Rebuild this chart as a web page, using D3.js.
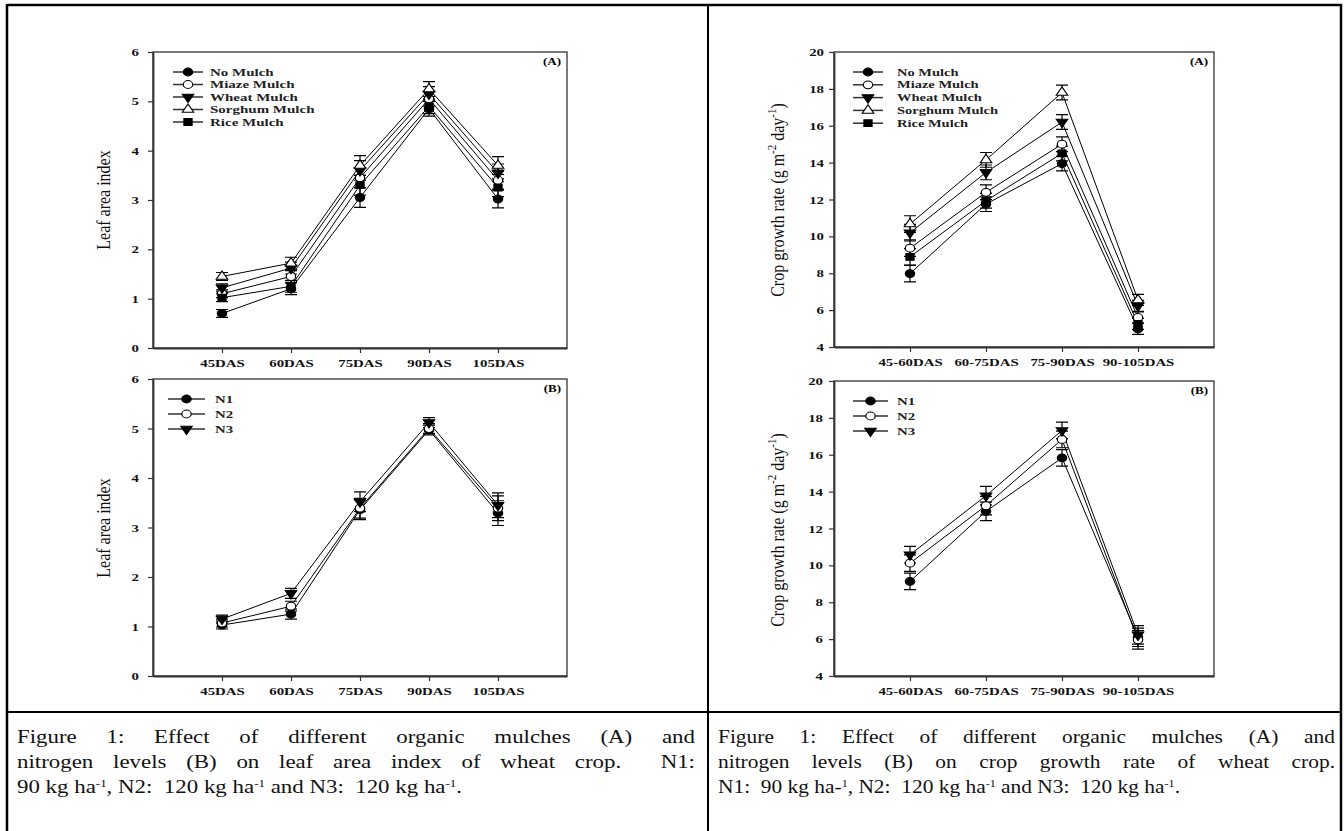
<!DOCTYPE html>
<html>
<head>
<meta charset="utf-8">
<script src="https://cdn.jsdelivr.net/npm/d3@7"></script>
<style>
body { margin: 0; background: #fff; }
#wrap { position: relative; width: 1344px; height: 831px; overflow: hidden; }
svg { position: absolute; left: 0; top: 0; }
.cap { position: absolute; font-family: "Liberation Serif", serif; font-size: 19.5px; line-height: 25px; color: #111; transform-origin: 0 0; }
.cap .j { text-align: justify; text-align-last: justify; }
.cap span { white-space: nowrap; }
.cap sup { font-size: 11px; vertical-align: 6px; line-height: 0; }
</style>
</head>
<body>
<div id="wrap">
  <svg id="chart" width="1344" height="831"></svg>
  <div class="cap" id="capL">
    <div class="j">Figure 1: Effect of different organic mulches (A) and</div>
    <div class="j">nitrogen levels (B) on leaf area index of wheat crop.&nbsp; N1:</div>
    <div class="last"><span>90 kg ha<sup>-1</sup>, N2:&nbsp; 120 kg ha<sup>-1</sup> and N3:&nbsp; 120 kg ha<sup>-1</sup>.</span></div>
  </div>
  <div class="cap" id="capR">
    <div class="j">Figure 1: Effect of different organic mulches (A) and</div>
    <div class="j">nitrogen levels (B) on crop growth rate of wheat crop.</div>
    <div class="last"><span>N1:&nbsp; 90 kg ha-<sup>1</sup>, N2:&nbsp; 120 kg ha<sup>-1</sup> and N3:&nbsp; 120 kg ha<sup>-1</sup>.</span></div>
  </div>
</div>
<script>
// categories
const laiDays = ['45DAS', '60DAS', '75DAS', '90DAS', '105DAS'];
const cgrDays = ['45-60DAS', '60-75DAS', '75-90DAS', '90-105DAS'];
const mulchNames = ['No Mulch', 'Miaze Mulch', 'Wheat Mulch', 'Sorghum Mulch', 'Rice Mulch'];
const nitrogenNames = ['N1', 'N2', 'N3'];

// leaf area index, mulches (A)
const laiNoMulch = [0.70, 1.20, 3.05, 4.85, 3.02];
const laiMiaze = [1.10, 1.45, 3.45, 5.05, 3.40];
const laiWheat = [1.22, 1.62, 3.60, 5.15, 3.55];
const laiSorghum = [1.45, 1.72, 3.70, 5.25, 3.70];
const laiRice = [1.02, 1.25, 3.30, 4.90, 3.25];
const laiMulchErr = [0.08, 0.12, 0.20, 0.15, 0.18];

// leaf area index, nitrogen (B)
const laiN1 = [1.03, 1.25, 3.36, 4.97, 3.29];
const laiN2 = [1.07, 1.41, 3.39, 5.00, 3.39];
const laiN3 = [1.15, 1.67, 3.52, 5.12, 3.45];
const laiNErr = [0.08, 0.10, 0.20, 0.10, 0.25];

// crop growth rate, mulches (A)
const cgrNoMulch = [7.98, 11.75, 13.95, 4.98];
const cgrMiaze = [9.36, 12.39, 15.00, 5.60];
const cgrWheat = [10.20, 13.47, 16.20, 6.23];
const cgrSorghum = [10.67, 14.15, 17.80, 6.55];
const cgrRice = [8.89, 11.93, 14.50, 5.25];
const cgrMulchErr = [0.45, 0.40, 0.40, 0.30];

// crop growth rate, nitrogen (B)
const cgrN1 = [9.13, 12.93, 15.83, 6.10];
const cgrN2 = [10.12, 13.24, 16.83, 5.96];
const cgrN3 = [10.58, 13.78, 17.32, 6.23];
const cgrNErr = [0.45, 0.50, 0.45, 0.50];

const laiTicks = [0, 1, 2, 3, 4, 5, 6];
const cgrTicks = [4, 6, 8, 10, 12, 14, 16, 18, 20];

const svg = d3.select('#chart');
const serif = '"Liberation Serif", "Times New Roman", serif';

// marker styles: [symbol, filled, rotation, size]
const markers = [
    [d3.symbolCircle, true, 0, 48],
    [d3.symbolCircle, false, 0, 48],
    [d3.symbolTriangle, true, 180, 40],
    [d3.symbolTriangle, false, 0, 40],
    [d3.symbolSquare, true, 0, 46]
];

function drawMarker(g, x, y, i) {
    let m = markers[i];
    g.append('path')
        .attr('d', d3.symbol().type(m[0]).size(m[3])())
        .attr('transform', `translate(${x},${y}) scale(1.2,1) rotate(${m[2]})`)
        .attr('fill', m[1] ? '#000' : '#fff')
        .attr('stroke', '#000')
        .attr('stroke-width', 1);
}

function stretch(sel, sx) {
    sel.each(function () {
        let t = d3.select(this);
        let x = +t.attr('x') || 0, y = +t.attr('y') || 0;
        t.attr('x', 0).attr('y', 0).attr('transform', `translate(${x},${y}) scale(${sx},1)`);
    });
}

function drawPanel(p) {
    let x = d3.scalePoint().domain(p.cats).range([p.left, p.right]).padding(1);
    let y = d3.scaleLinear().domain(p.domain).range([p.bottom, p.top]);
    let g = svg.append('g');

    // frame
    g.append('rect')
        .attr('x', p.left).attr('y', p.top)
        .attr('width', p.right - p.left).attr('height', p.bottom - p.top)
        .attr('fill', 'none').attr('stroke', '#333').attr('stroke-width', 1.3);

    let yAxis = g.append('g')
        .attr('transform', `translate(${p.left},0)`)
        .call(d3.axisLeft(y).tickValues(p.ticks).tickFormat(d3.format('d'))
            .tickSize(5).tickSizeOuter(0).tickPadding(p.ypad));
    let xAxis = g.append('g')
        .attr('transform', `translate(0,${p.bottom})`)
        .call(d3.axisBottom(x).tickSize(5).tickSizeOuter(0).tickPadding(6));
    for (let a of [xAxis, yAxis]) {
        a.select('.domain').attr('stroke', '#333').attr('stroke-width', 1.8);
        a.selectAll('.tick line').attr('stroke', '#333').attr('stroke-width', 1.2);
        a.selectAll('text').attr('font-family', serif).attr('font-weight', 'bold')
            .attr('font-size', 11).attr('fill', '#111');
        stretch(a.selectAll('text'), 1.35);
    }

    // y label
    let lab = g.append('text')
        .attr('transform', `translate(${p.labelX},${p.labelY}) scale(1.2,1) rotate(-90)`)
        .attr('text-anchor', 'middle')
        .attr('font-family', serif).attr('font-size', 16).attr('fill', '#111');
    p.label(lab);

    // tag (A)/(B)
    g.append('text')
        .attr('transform', `translate(${p.right - 6},${p.top + 13}) scale(1.3,1)`)
        .attr('text-anchor', 'end')
        .attr('font-family', serif).attr('font-weight', 'bold').attr('font-size', 10)
        .text(p.tag);

    let line = d3.line().x((d, i) => x(p.cats[i])).y(d => y(d));

    p.series.forEach((s, si) => {
        g.append('path').datum(s)
            .attr('d', line)
            .attr('fill', 'none').attr('stroke', '#000').attr('stroke-width', 1);
    });
    p.series.forEach((s, si) => {
        s.forEach((v, i) => {
            let cx = x(p.cats[i]);
            let e = p.err[i];
            g.append('path')
                .attr('d', `M${cx},${y(v - e)}V${y(v + e)}M${cx - 6},${y(v + e)}H${cx + 6}M${cx - 6},${y(v - e)}H${cx + 6}`)
                .attr('stroke', '#000').attr('stroke-width', 1.2).attr('fill', 'none');
        });
    });
    p.series.forEach((s, si) => {
        s.forEach((v, i) => drawMarker(g, x(p.cats[i]), y(v), p.markerIdx[si]));
    });

    // legend
    p.names.forEach((n, i) => {
        let ly = p.legY + i * p.legStep;
        g.append('line')
            .attr('x1', p.legX).attr('x2', p.legX + p.legLen)
            .attr('y1', ly).attr('y2', ly)
            .attr('stroke', '#333').attr('stroke-width', 1.5);
        drawMarker(g, p.legX + p.legLen / 2, ly, p.markerIdx[i]);
        g.append('text')
            .attr('transform', `translate(${p.legX + p.legLen + p.legGap},${ly + 3.5}) scale(${p.legScale},1)`)
            .attr('font-family', serif).attr('font-weight', 'bold').attr('font-size', p.legFont)
            .attr('fill', '#222')
            .text(n);
    });
}

function laiLabel(t) { t.text('Leaf area index'); }
function cgrLabel(t) {
    t.append('tspan').text('Crop growth rate (g m');
    t.append('tspan').attr('baseline-shift', 'super').attr('font-size', 11).text('-2');
    t.append('tspan').text(' day');
    t.append('tspan').attr('baseline-shift', 'super').attr('font-size', 11).text('-1');
    t.append('tspan').text(')');
}

drawPanel({
    cats: laiDays, domain: [0, 6], ticks: laiTicks, ypad: 9,
    left: 153, right: 567, top: 52, bottom: 348,
    series: [laiNoMulch, laiMiaze, laiWheat, laiSorghum, laiRice], err: laiMulchErr,
    names: mulchNames, markerIdx: [0, 1, 2, 3, 4],
    label: laiLabel, labelX: 110, labelY: 200, tag: '(A)',
    legX: 173, legY: 72, legStep: 12.5, legLen: 30, legGap: 7, legFont: 10, legScale: 1.5
});
drawPanel({
    cats: laiDays, domain: [0, 6], ticks: laiTicks, ypad: 9,
    left: 153, right: 567, top: 379, bottom: 676,
    series: [laiN1, laiN2, laiN3], err: laiNErr,
    names: nitrogenNames, markerIdx: [0, 1, 2],
    label: laiLabel, labelX: 110, labelY: 528, tag: '(B)',
    legX: 168, legY: 399, legStep: 15, legLen: 37, legGap: 10, legFont: 11, legScale: 1.35
});
drawPanel({
    cats: cgrDays, domain: [4, 20], ticks: cgrTicks, ypad: 5,
    left: 834, right: 1214, top: 52, bottom: 347,
    series: [cgrNoMulch, cgrMiaze, cgrWheat, cgrSorghum, cgrRice], err: cgrMulchErr,
    names: mulchNames, markerIdx: [0, 1, 2, 3, 4],
    label: cgrLabel, labelX: 784, labelY: 200, tag: '(A)',
    legX: 853, legY: 72, legStep: 12.8, legLen: 30, legGap: 14, legFont: 10, legScale: 1.45
});
drawPanel({
    cats: cgrDays, domain: [4, 20], ticks: cgrTicks, ypad: 6,
    left: 834, right: 1214, top: 381, bottom: 676,
    series: [cgrN1, cgrN2, cgrN3], err: cgrNErr,
    names: nitrogenNames, markerIdx: [0, 1, 2],
    label: cgrLabel, labelX: 784, labelY: 530, tag: '(B)',
    legX: 853, legY: 401, legStep: 15, legLen: 35, legGap: 9, legFont: 11, legScale: 1.35
});

// table borders
let table = svg.append('g').attr('stroke', '#000').attr('fill', 'none');
table.append('path').attr('d', 'M7,5H1341V831').attr('stroke-width', 2.5);
table.append('line').attr('x1', 7).attr('x2', 7).attr('y1', 4).attr('y2', 831).attr('stroke-width', 2.5);
table.append('line').attr('x1', 708).attr('x2', 708).attr('y1', 5).attr('y2', 831).attr('stroke-width', 2);
table.append('line').attr('x1', 7).attr('x2', 1341).attr('y1', 712).attr('y2', 712).attr('stroke-width', 2);

// captions: horizontal scale so the last (unjustified) line has the reference width
function placeCaption(id, left, width, lastWidth) {
    let cap = d3.select(id).style('left', left + 'px').style('top', '724px').style('width', width + 'px');
    let natural = cap.select('.last span').node().getBoundingClientRect().width;
    let s = lastWidth / natural;
    cap.style('width', (width / s) + 'px').style('transform', `scaleX(${s})`);
}
placeCaption('#capL', 17, 678, 445);
placeCaption('#capR', 718, 617, 462);
</script>
</body>
</html>
